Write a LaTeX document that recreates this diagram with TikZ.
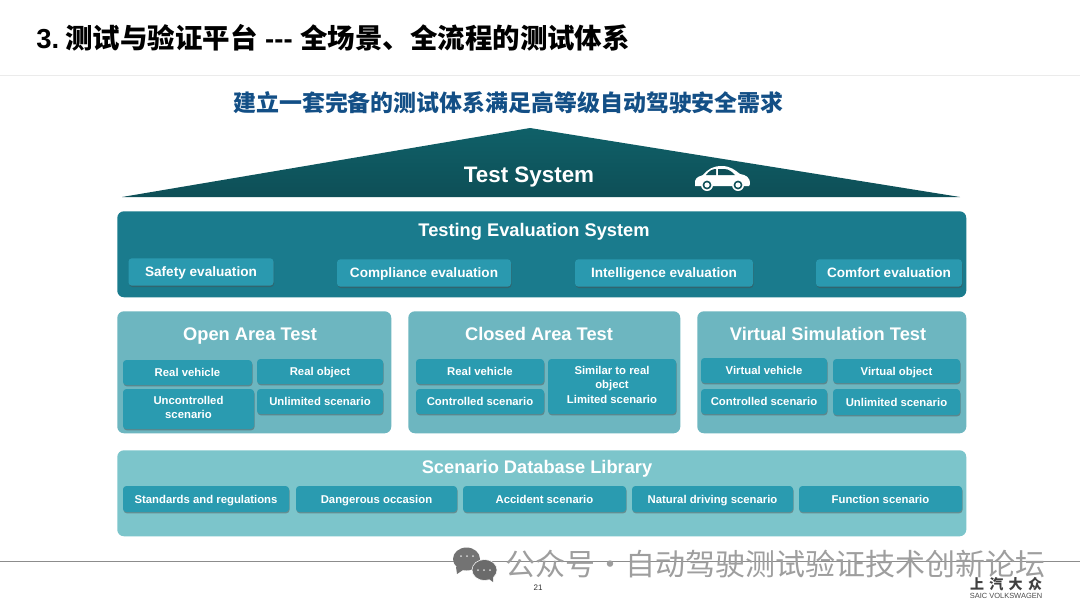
\documentclass[tikz,border=0pt]{standalone}
\usepackage{fontspec}
\setmainfont{Liberation Sans}
\newfontfamily\cjk{Noto Sans CJK SC}
\usetikzlibrary{shadows}
\definecolor{roofteal}{HTML}{0F6068}
\definecolor{roofdark}{HTML}{0E4F57}
\definecolor{evalteal}{HTML}{1A7B8D}
\definecolor{evalbox}{HTML}{2A99AF}
\definecolor{testteal}{HTML}{6DB6C0}
\definecolor{libteal}{HTML}{7CC5CB}
\definecolor{itembox}{HTML}{2A9BB0}
\definecolor{subblue}{HTML}{134F86}
\newcommand{\linerule}{\rule[-.2\baselineskip]{0pt}{\baselineskip}}
\begin{document}
\begin{tikzpicture} [
                x=0.75pt,y=-0.75pt,
                panel/.style={rounded corners=5pt,inner sep=0pt,anchor=north west},
                itemnode/.style={rectangle,rounded corners=2.5pt,fill=itembox,text=white,inner sep=0pt,align=center,
                    font=\bfseries\fontsize{8.5}{10.5}\selectfont,execute at begin node=\linerule,
                    drop shadow={shadow xshift=0.4pt,shadow yshift=-1pt,opacity=.45,fill=black!70}},
                evalnode/.style={itemnode,fill=evalbox,font=\bfseries\fontsize{10.2}{12}\selectfont},
                headline/.style={text=white,inner sep=0pt,font=\bfseries\fontsize{13.7}{16}\selectfont,execute at begin node=\linerule},
            ]
            \useasboundingbox (0,0) rectangle (1080,608);
            \fill[white] (0,0) rectangle (1080,608);
            % header
            \node[anchor=west,inner sep=0pt] (title) at (36,38) {\fontsize{20.6}{24}\selectfont\bfseries 3.\hspace{-3pt} {\cjk 测试与验证平台} -{}-{}- {\cjk 全场景、全流程的测试体系}};
            \draw[black!8] (0,75) -- (1080,75);
            \node[text=subblue,inner sep=0pt] (goal) at (508.5,103) {\fontsize{17.2}{20}\selectfont\cjk\bfseries 建立一套完备的测试体系满足高等级自动驾驶安全需求};
            % roof
            \path[top color=roofteal,bottom color=roofdark] (122,197) -- (530,128) -- (960,197) -- cycle;
            \node[text=white,inner sep=0pt,font=\bfseries\fontsize{16.8}{20}\selectfont,execute at begin node=\linerule] (testsystem) at (529,174) {Test System};
            \fill[white] (695,186) -- (695,181) .. controls (696,177) and (700,176) .. (703,175)
                .. controls (708,169) and (713,166) .. (722,166) .. controls (730,166) and (735,170) .. (740,174)
                .. controls (746,175) and (750,177) .. (750,184) -- (749,186) -- cycle;
            \fill[roofdark] (706,175) .. controls (709,171) and (712,169) .. (716,169) -- (716,175) -- cycle
                (718,169) -- (724,169) .. controls (729,169) and (732,172) .. (735,175) -- (718,175) -- cycle;
            \foreach \wheel in {707,738} {
                \fill[white] (\wheel,185) circle (6);
                \fill[roofdark] (\wheel,185) circle (4.4);
                \fill[white] (\wheel,185) circle (2.6);
            }
            % panels
            \foreach \pos/\w/\h/\col/\name in {
                    (117,211)/849/86/evalteal/evalpanel, (117,311)/274/122/testteal/openpanel,
                    (408,311)/272/122/testteal/closedpanel, (697,311)/269/122/testteal/virtualpanel,
                    (117,450)/849/86/libteal/libpanel}
                \node[panel,fill=\col,minimum width=\w*0.75pt,minimum height=\h*0.75pt] (\name) at \pos {};
            \foreach \pos/\name/\txt in {
                    (534,230)/evalhead/Testing Evaluation System, (250,334)/openhead/Open Area Test,
                    (539,334)/closedhead/Closed Area Test, (828,334)/virtualhead/Virtual Simulation Test,
                    (537,467)/libhead/Scenario Database Library}
                \node[headline] (\name) at \pos {\txt};
            % evaluation boxes
            \foreach \pos/\w/\name/\txt in {
                    (201,272)/145/safety/Safety evaluation, (424,273)/174/compliance/Compliance evaluation,
                    (664,273)/178/intelligence/Intelligence evaluation, (889,273)/146/comfort/Comfort evaluation}
                \node[evalnode,minimum width=\w*0.75pt,minimum height=20.5pt] (\name) at \pos {\txt};
            % test boxes
            \foreach \pos/\w/\h/\name/\txt in {
                    (187.5,372.5)/129/25/openveh/Real vehicle, (320,371.5)/126/25/openobj/Real object,
                    (188.5,409)/131/40/openctl/{Uncontrolled\\scenario}, (320,401.5)/126/25/openlim/Unlimited scenario,
                    (480,371.5)/128/25/closedveh/Real vehicle, (480,401.5)/128/25/closedctl/Controlled scenario,
                    (612,386.5)/128/55/closedobj/{Similar to real\\object\\[1pt]Limited scenario},
                    (764,370.5)/126/25/virtveh/Virtual vehicle, (896.5,371)/127/24/virtobj/Virtual object,
                    (764,401.5)/126/25/virtctl/Controlled scenario, (896.5,402)/127/26/virtlim/Unlimited scenario}
                \node[itemnode,minimum width=\w*0.75pt,minimum height=\h*0.75pt] (\name) at \pos {\txt};
            % scenario boxes
            \foreach \pos/\w/\name/\txt in {
                    (206,499)/166/standards/Standards and regulations, (376.5,499)/161/dangerous/Dangerous occasion,
                    (544.5,499)/163/accident/Accident scenario, (712.5,499)/161/natural/Natural driving scenario,
                    (880.5,499)/163/function/Function scenario}
                \node[itemnode,minimum width=\w*0.75pt,minimum height=19.5pt] (\name) at \pos {\txt};
            % footer
            \draw[black!45] (0,561) -- (1080,561);
            \fill[black!55] (466.5,559) ellipse (13.5 and 11.5) (456,567) -- (457,574) -- (463,570) -- cycle;
            \fill[black!58,draw=white] (484.5,570) ellipse (12.5 and 10.5);
            \fill[black!58] (489,579) -- (493,582) -- (493,576) -- cycle;
            \foreach \dotx/\doty in {461/556,467/556,473/556,478/570,484/570,490/570}
                \fill[black!15] (\dotx,\doty) circle (1);
            \node[text=black!38,anchor=west,inner sep=0pt] (mark) at (505,564) {\fontsize{22.5}{26}\selectfont\cjk 公众号·自动驾驶测试验证技术创新论坛};
            \node[font=\fontsize{6}{7}\selectfont,text=black!80] (pageno) at (538,588) {21};
            \node[font=\fontsize{10.5}{12}\selectfont\cjk\bfseries,text=black!75,inner sep=0pt] (saiccn) at (1006,584) {上\kern4pt 汽\kern4pt 大\kern4pt 众};
            \node[font=\fontsize{5.6}{7}\selectfont,text=black!70,inner sep=0pt] (saicen) at (1006,596) {SAIC VOLKSWAGEN};
        \end{tikzpicture}
\end{document}
